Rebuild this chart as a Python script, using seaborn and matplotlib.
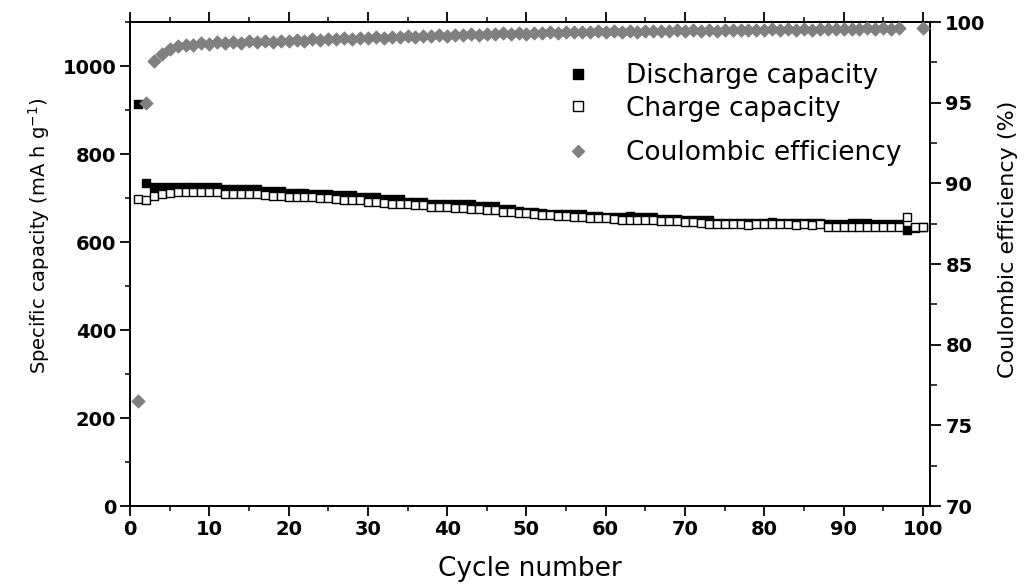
import numpy as np
import pandas as pd
import matplotlib
matplotlib.use("Agg")
import matplotlib.pyplot as plt
import seaborn as sns
from matplotlib.ticker import MultipleLocator, FixedLocator
from matplotlib.lines import Line2D

# ---------------- data ----------------
cycles = list(range(1, 101))

discharge = [913, 735, 724, 724, 724, 724, 724, 724, 724, 724,
             724, 720, 720, 720, 720, 720, 715, 715, 715, 711,
             711, 711, 710, 710, 710, 707, 707, 707, 702, 702,
             702, 697, 697, 697, 692, 692, 692, 687, 687, 687,
             687, 687, 687, 681, 681, 681, 675, 675, 670, 669,
             668, 667, 664, 664, 664, 664, 664, 659, 659, 656,
             656, 656, 659, 656, 656, 656, 652, 652, 652, 649,
             649, 649, 649, 644, 644, 644, 644, 644, 644, 644,
             646, 644, 644, 644, 644, 644, 644, 642, 642, 642,
             644, 644, 644, 642, 642, 642, 642, 628, 632, 634]

charge = [698, 695, 704, 710, 711, 714, 714, 714, 714, 714,
          713, 708, 708, 708, 708, 708, 707, 705, 705, 703,
          703, 702, 702, 700, 699, 698, 695, 695, 695, 691,
          690, 688, 687, 686, 686, 683, 683, 680, 680, 679,
          677, 677, 676, 674, 673, 673, 668, 668, 665, 665,
          663, 662, 662, 658, 658, 657, 657, 655, 655, 655,
          652, 651, 651, 650, 650, 649, 647, 647, 647, 645,
          645, 644, 641, 641, 640, 640, 640, 639, 640, 640,
          641, 640, 640, 639, 640, 639, 640, 635, 635, 635,
          635, 635, 635, 635, 635, 635, 635, 656, 633, 634]

efficiency = [76.5, 95.0, 97.6, 98.0, 98.3, 98.5, 98.6, 98.6, 98.7, 98.65,
              98.75, 98.7, 98.78, 98.72, 98.8, 98.75, 98.82, 98.76, 98.85, 98.8,
              98.88, 98.84, 98.92, 98.88, 98.96, 98.92, 99.0, 98.95, 99.02, 99.0,
              99.06, 99.02, 99.1, 99.05, 99.12, 99.08, 99.16, 99.12, 99.2, 99.15,
              99.22, 99.18, 99.25, 99.22, 99.28, 99.24, 99.3, 99.26, 99.32, 99.28,
              99.34, 99.3, 99.36, 99.33, 99.38, 99.35, 99.4, 99.36, 99.42, 99.38,
              99.43, 99.4, 99.45, 99.41, 99.46, 99.42, 99.47, 99.44, 99.48, 99.45,
              99.49, 99.46, 99.5, 99.47, 99.51, 99.48, 99.52, 99.49, 99.53, 99.5,
              99.54, 99.51, 99.55, 99.52, 99.56, 99.53, 99.57, 99.54, 99.58, 99.55,
              99.59, 99.56, 99.6, 99.57, 99.6, 99.58, 99.6, np.nan, np.nan, 99.6]

labels = ["Discharge capacity", "Charge capacity", "Coulombic efficiency"]
x_ticks = [0, 10, 20, 30, 40, 50, 60, 70, 80, 90, 100]
y_ticks = [0, 200, 400, 600, 800, 1000]
y2_ticks = [70, 75, 80, 85, 90, 95, 100]

df = pd.DataFrame({"cycle": cycles, "discharge": discharge,
                   "charge": charge, "efficiency": efficiency})

# ---------------- style ----------------
sns.set_theme(style="ticks")
plt.rcParams["font.family"] = ["DejaVu Sans"]
plt.rcParams["axes.linewidth"] = 1.3
for k in ("text.color", "axes.labelcolor", "xtick.color", "ytick.color",
          "axes.edgecolor", "xtick.labelcolor", "ytick.labelcolor"):
    plt.rcParams[k] = "black"

W, H = 1035, 587
fig = plt.figure(figsize=(W / 100, H / 100), dpi=100)
ax = fig.add_axes([130 / W, 1 - 506 / H, 800 / W, 484 / H])
ax2 = ax.twinx()

grey = "#808080"
sns.scatterplot(data=df, x="cycle", y="discharge", marker="s", s=36,
                color="black", edgecolor="black", linewidth=1.0, ax=ax, zorder=2)
sns.scatterplot(data=df, x="cycle", y="charge", marker="s", s=36,
                color="white", edgecolor="black", linewidth=1.0, ax=ax, zorder=3)
sns.scatterplot(data=df.dropna(), x="cycle", y="efficiency", marker="D", s=46,
                color=grey, edgecolor=grey, linewidth=0.6, ax=ax2, zorder=3)

ax.set_xlim(0, 100.9)
ax.set_ylim(0, 1100)
ax2.set_ylim(70, 100)

ax.xaxis.set_major_locator(FixedLocator(x_ticks))
ax.xaxis.set_minor_locator(MultipleLocator(5))
ax.yaxis.set_major_locator(FixedLocator(y_ticks))
ax.yaxis.set_minor_locator(MultipleLocator(100))
ax2.yaxis.set_major_locator(FixedLocator(y2_ticks))
ax2.yaxis.set_minor_locator(MultipleLocator(2.5))

ax.set_xticks(x_ticks)
ax.set_xticklabels([str(v) for v in x_ticks], fontweight="bold", fontsize=14)
ax.set_yticks(y_ticks)
ax.set_yticklabels([str(v) for v in y_ticks], fontweight="bold", fontsize=14)
ax2.set_yticks(y2_ticks)
ax2.set_yticklabels([str(v) for v in y2_ticks], fontweight="bold", fontsize=14)

ax.tick_params(axis="both", which="major", direction="out", length=7, width=1.3,
               colors="black", pad=3)
ax.tick_params(axis="both", which="minor", direction="out", length=3.8, width=1.1,
               colors="black")
ax.tick_params(axis="x", top=True, which="both")
ax.tick_params(axis="y", right=False, which="both")
ax2.tick_params(axis="y", which="major", direction="out", length=8, width=1.3, pad=3,
                colors="black")
ax2.tick_params(axis="y", which="minor", direction="out", length=5, width=1.1,
                colors="black")

for a in (ax, ax2):
    for s in a.spines.values():
        s.set_visible(True)
        s.set_linewidth(1.3)
        s.set_color("black")

ax.set_xlabel("Cycle number", fontsize=19, labelpad=12)
ax.set_ylabel("Specific capacity (mA h g$^{-1}$)", fontsize=14)
ax.yaxis.set_label_coords(-0.098, 0.558)
ax2.set_ylabel("Coulombic efficiency (%)", fontsize=16)
ax2.yaxis.set_label_coords(1.085, 0.55)

# ---------------- legends ----------------
h1 = [Line2D([], [], ls="", marker="s", ms=6.5, mfc="black", mec="black", mew=1),
      Line2D([], [], ls="", marker="s", ms=6.5, mfc="white", mec="black", mew=1)]
h2 = [Line2D([], [], ls="", marker="D", ms=6.5, mfc=grey, mec=grey)]
leg_kw = dict(frameon=False, fontsize=19, handlelength=1.0, handletextpad=1.3,
              borderpad=0, borderaxespad=0, loc="upper left",
              bbox_transform=fig.transFigure)
leg1 = ax2.legend(h1, labels[:2], labelspacing=0.25,
                  bbox_to_anchor=(565 / W, 1 - 63 / H), **leg_kw)
ax2.add_artist(leg1)
leg2 = ax2.legend(h2, labels[2:], bbox_to_anchor=(565 / W, 1 - 140 / H), **leg_kw)

fig.savefig("out.png", dpi=100)
